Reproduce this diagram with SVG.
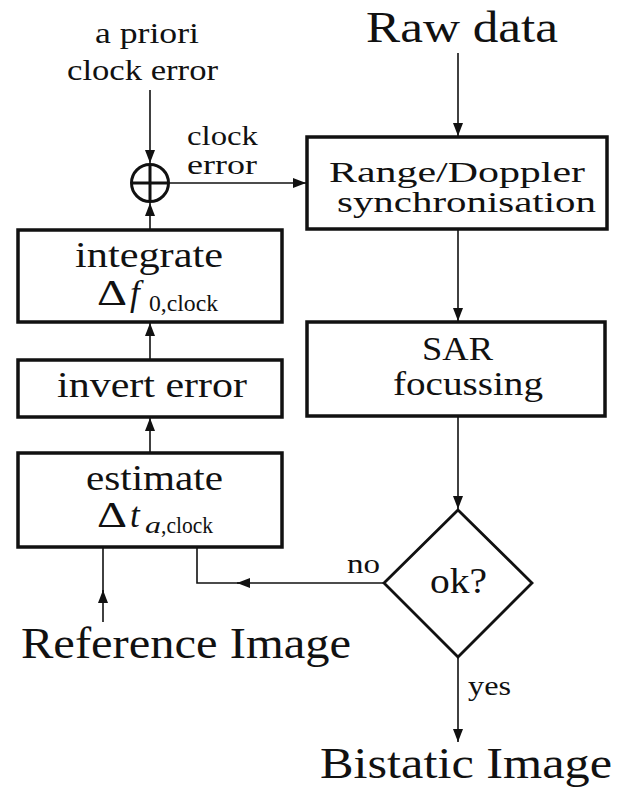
<svg xmlns="http://www.w3.org/2000/svg" width="621" height="800" viewBox="0 0 621 800">
<style>
.box{fill:#fff;stroke:#111;stroke-width:3.5}
.c{fill:none;stroke:#111;stroke-width:1.6}
</style>
<defs>
<marker id="ah" markerUnits="userSpaceOnUse" markerWidth="14" markerHeight="10" refX="13" refY="5" orient="auto">
<path d="M0,0 L13,5 L0,10 Z" fill="#111"/>
</marker>
</defs>
<rect width="621" height="800" fill="#fff"/>
<g font-family="'Liberation Serif', 'DejaVu Serif', 'Times New Roman', serif" fill="#111">
<g id="connectors">
<path class="c" d="M150,90 L150,163" marker-end="url(#ah)"/>
<path class="c" d="M169,183 L306,183" marker-end="url(#ah)"/>
<path class="c" d="M150,230 L150,203" marker-end="url(#ah)"/>
<path class="c" d="M150,360 L150,323" marker-end="url(#ah)"/>
<path class="c" d="M150,453 L150,418" marker-end="url(#ah)"/>
<path class="c" d="M458,53 L458,136" marker-end="url(#ah)"/>
<path class="c" d="M458,229 L458,321" marker-end="url(#ah)"/>
<path class="c" d="M458,416 L458,509" marker-end="url(#ah)"/>
<path class="c" d="M458,657 L458,742" marker-end="url(#ah)"/>
<path class="c" d="M384,583 L237,583" marker-end="url(#ah)"/>
<path class="c" d="M240,583 L197,583 L197,547"/>
<path class="c" d="M103,622 L103,590" marker-end="url(#ah)"/>
<path class="c" d="M103,593 L103,547"/>
<text x="187" y="145" font-size="27" textLength="71" lengthAdjust="spacingAndGlyphs">clock</text>
<text x="187" y="174" font-size="27" textLength="70" lengthAdjust="spacingAndGlyphs">error</text>
<text x="347" y="573" font-size="28" textLength="33" lengthAdjust="spacingAndGlyphs">no</text>
<text x="468" y="695" font-size="28" textLength="43" lengthAdjust="spacingAndGlyphs">yes</text>
</g>
<g id="apriori">
<text x="95" y="43" font-size="30" textLength="104" lengthAdjust="spacingAndGlyphs">a priori</text>
<text x="67" y="80" font-size="30" textLength="151" lengthAdjust="spacingAndGlyphs">clock error</text>
</g>
<g id="sum">
<circle cx="150" cy="183" r="18.5" fill="#fff" stroke="#111" stroke-width="3"/>
<path d="M131.5,183 H168.5 M150,164.5 V201.5" stroke="#111" stroke-width="3"/>
</g>
<g id="rawdata">
<text x="366" y="42" font-size="44" textLength="192" lengthAdjust="spacingAndGlyphs">Raw data</text>
</g>
<g id="rangedoppler">
<rect class="box" x="307" y="137" width="300" height="92"/>
<text x="329" y="182" font-size="29" textLength="256" lengthAdjust="spacingAndGlyphs">Range/Doppler</text>
<text x="337" y="212" font-size="29" textLength="259" lengthAdjust="spacingAndGlyphs">synchronisation</text>
</g>
<g id="sar">
<rect class="box" x="307" y="322" width="298" height="94"/>
<text x="422" y="360" font-size="34" textLength="71" lengthAdjust="spacingAndGlyphs">SAR</text>
<text x="393" y="395" font-size="34" textLength="150" lengthAdjust="spacingAndGlyphs">focussing</text>
</g>
<g id="ok">
<path d="M458,510 L532,583 L458,657 L384,583 Z" fill="#fff" stroke="#111" stroke-width="2.8"/>
<text x="430" y="593" font-size="35" textLength="57" lengthAdjust="spacingAndGlyphs">ok?</text>
</g>
<g id="bistatic">
<text x="320" y="778" font-size="44" textLength="292" lengthAdjust="spacingAndGlyphs">Bistatic Image</text>
</g>
<g id="integrate">
<rect class="box" x="18" y="230" width="264" height="92"/>
<text x="75" y="267" font-size="35" textLength="148" lengthAdjust="spacingAndGlyphs">integrate</text>
<text y="305" font-size="35"><tspan x="97" textLength="30" lengthAdjust="spacingAndGlyphs">Δ</tspan><tspan x="130" font-style="italic">f</tspan><tspan x="149" y="311" font-size="24" textLength="69" lengthAdjust="spacingAndGlyphs">0,clock</tspan></text>
</g>
<g id="invert">
<rect class="box" x="18" y="360" width="264" height="57"/>
<text x="57" y="397" font-size="35" textLength="190" lengthAdjust="spacingAndGlyphs">invert error</text>
</g>
<g id="estimate">
<rect class="box" x="18" y="453" width="264" height="94"/>
<text x="86" y="490" font-size="35" textLength="137" lengthAdjust="spacingAndGlyphs">estimate</text>
<text y="527" font-size="35"><tspan x="97" textLength="30" lengthAdjust="spacingAndGlyphs">Δ</tspan><tspan x="130" font-style="italic">t</tspan><tspan x="145" y="533" font-size="24" font-style="italic" textLength="16" lengthAdjust="spacingAndGlyphs">a</tspan><tspan x="161" y="533" font-size="24" textLength="52" lengthAdjust="spacingAndGlyphs">,clock</tspan></text>
</g>
<g id="reference">
<text x="21" y="658" font-size="44" textLength="330" lengthAdjust="spacingAndGlyphs">Reference Image</text>
</g>
</g>
</svg>
